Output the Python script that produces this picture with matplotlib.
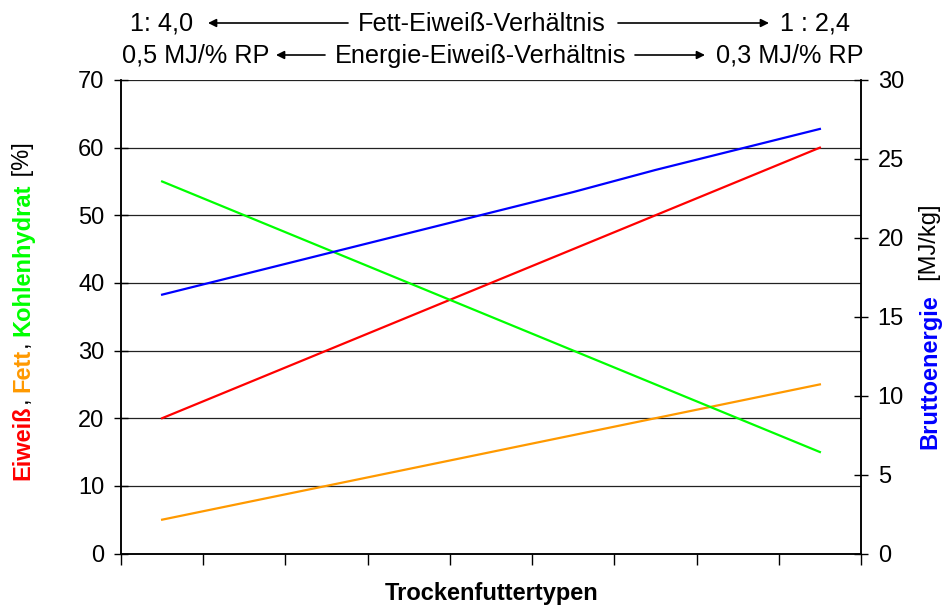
import matplotlib
matplotlib.use("Agg")
import matplotlib.pyplot as plt

plt.rcParams['font.family'] = ['Liberation Sans', 'DejaVu Sans']

# Daten je Trockenfuttertyp
typen = list(range(9))
eiweiss = [20, 25, 30, 35, 40, 45, 50, 55, 60]
fett = [5, 7.5, 10, 12.5, 15, 17.5, 20, 22.5, 25]
kohlenhydrat = [55, 50, 45, 40, 35, 30, 25, 20, 15]
bruttoenergie = [16.4, 17.7, 19.0, 20.3, 21.6, 22.9, 24.3, 25.6, 26.9]

W, H = 944, 610
FS = 17
FS_HEAD = 18.2

fig = plt.figure(figsize=(W / 100, H / 100), dpi=100)
ax = fig.add_axes([121 / W, 56.5 / H, 740 / W, 473.5 / H])
ax2 = ax.twinx()


def fx(px):
    return px / W


def fy(py):
    return 1 - py / H


# Linien
ax.plot(typen, eiweiss, color='#FF0000', lw=1.6, zorder=3)
ax.plot(typen, fett, color='#FF9900', lw=1.6, zorder=3)
ax.plot(typen, kohlenhydrat, color='#00FF00', lw=1.6, zorder=3)
ax2.plot(typen, bruttoenergie, color='#0000FF', lw=1.6, zorder=3)

ax.set_xlim(-0.5, 8.5)
ax.set_ylim(0, 70)
ax2.set_ylim(0, 30)
ax.set_yticks(range(0, 71, 10))
ax2.set_yticks(range(0, 31, 5))
ax.set_xticks([i - 0.5 for i in range(10)])
ax.set_xticklabels([])

for y in range(10, 71, 10):
    ax.axhline(y, color='#222222', lw=0.9, zorder=1)

for a in (ax, ax2):
    a.spines['top'].set_visible(False)
    for s in ('left', 'right', 'bottom'):
        a.spines[s].set_linewidth(1.1)
        a.spines[s].set_color('black')

ax.tick_params(axis='y', direction='inout', length=10, width=1, pad=7, labelsize=FS)
ax2.tick_params(axis='y', direction='inout', length=10, width=1, pad=7, labelsize=FS)
ax.tick_params(axis='x', direction='out', length=8, width=1)

# x-Achsentitel
fig.text(fx(492), fy(600), "Trockenfuttertypen", ha='center', va='baseline',
         fontsize=FS, fontweight='bold')


# mehrfarbige, gedrehte Achsentitel
def stacked_label(x_px, center_px, parts):
    renderer = fig.canvas.get_renderer()
    texts = []
    y = 0.0
    for s, color, weight in parts:
        t = fig.text(fx(x_px), y, s, rotation=90, ha='center', va='bottom',
                     color=color, fontsize=FS, fontweight=weight)
        bb = t.get_window_extent(renderer)
        texts.append((t, y))
        y += bb.height / H
    shift = fy(center_px) - y / 2
    for t, y0 in texts:
        t.set_y(y0 + shift)


stacked_label(23, 311, [
    ("Eiweiß", '#FF0000', 'bold'),
    (", ", 'black', 'normal'),
    ("Fett", '#FF9900', 'bold'),
    (", ", 'black', 'normal'),
    ("Kohlenhydrat", '#00FF00', 'bold'),
    (" [%]", 'black', 'normal'),
])
stacked_label(930, 327, [
    ("Bruttoenergie", '#0000FF', 'bold'),
    ("  [MJ/kg]", 'black', 'normal'),
])

# Verhältnisse oberhalb des Diagramms
arrow = dict(arrowstyle='-|>', color='black', lw=1.2,
             mutation_scale=12, shrinkA=0, shrinkB=0)


def header_row(base_px, mid_px, left, x_left, arr_l, center, x_center, arr_r, right, x_right_end):
    fig.text(fx(x_left), fy(base_px), left, ha='left', va='baseline', fontsize=FS_HEAD)
    fig.text(fx(x_center), fy(base_px), center, ha='center', va='baseline', fontsize=FS_HEAD)
    fig.text(fx(x_right_end), fy(base_px), right, ha='right', va='baseline', fontsize=FS_HEAD)
    fig.add_artist(matplotlib.patches.FancyArrowPatch(
        (fx(arr_l[0]), fy(mid_px)), (fx(arr_l[1]), fy(mid_px)),
        transform=fig.transFigure, **arrow))
    fig.add_artist(matplotlib.patches.FancyArrowPatch(
        (fx(arr_r[0]), fy(mid_px)), (fx(arr_r[1]), fy(mid_px)),
        transform=fig.transFigure, **arrow))


header_row(31, 23, "1: 4,0", 130, (348, 208), "Fett-Eiweiß-Verhältnis", 482,
           (618, 769), "1 : 2,4", 850)
header_row(63, 55, "0,5 MJ/% RP", 122, (325, 276), "Energie-Eiweiß-Verhältnis", 481,
           (635, 705), "0,3 MJ/% RP", 863)

fig.savefig("out.png", dpi=100)
